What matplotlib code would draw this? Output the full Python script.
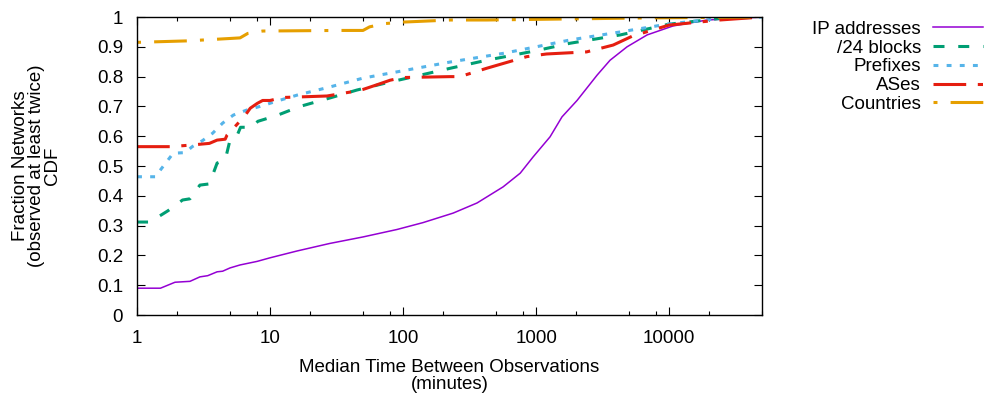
import numpy as np
import matplotlib
matplotlib.use('Agg')
import matplotlib.pyplot as plt
from matplotlib.ticker import LogLocator, NullFormatter, FixedLocator

plt.rcParams['font.family'] = ['Liberation Sans', 'DejaVu Sans']

# data (x in minutes, y = CDF)
ip_x = [1, 1.5, 1.93, 2.5, 2.97, 3.4, 4.0, 4.4, 5.0, 5.95, 8, 10, 16, 28, 50, 90, 141,
        238, 360, 565, 760, 948, 1274, 1567, 2033, 2876, 3600, 4830, 6840, 10700, 19300, 50000]
ip_y = [0.09, 0.09, 0.11, 0.113, 0.128, 0.132, 0.145, 0.147, 0.158, 0.168, 0.18, 0.192, 0.215,
        0.24, 0.262, 0.287, 0.31, 0.342, 0.376, 0.43, 0.476, 0.53, 0.598, 0.665, 0.72, 0.805,
        0.855, 0.9, 0.94, 0.97, 0.99, 1.0]

blocks_x = [1, 1.25, 1.71, 2.2, 2.5, 2.97, 3.5, 4.0, 4.6, 5.0, 5.6, 6.0, 7.3, 8.1, 11.3, 16.8,
            28, 45, 80, 113, 226, 425, 1000, 1800, 4300, 10000, 24000, 50000]
blocks_y = [0.312, 0.312, 0.35, 0.386, 0.39, 0.436, 0.44, 0.51, 0.52, 0.587, 0.598, 0.63, 0.63,
            0.65, 0.67, 0.70, 0.728, 0.755, 0.782, 0.797, 0.828, 0.855, 0.887, 0.912, 0.94,
            0.976, 0.995, 1.0]

prefix_x = [1, 1.37, 1.87, 2.3, 2.6, 3.1, 3.7, 4.4, 5.3, 6.7, 8.4, 11.3, 16, 28, 50, 90, 226,
            565, 1000, 1800, 4300, 10000, 24000, 50000]
prefix_y = [0.464, 0.464, 0.543, 0.545, 0.565, 0.585, 0.61, 0.644, 0.671, 0.688, 0.70, 0.718,
            0.738, 0.765, 0.795, 0.816, 0.849, 0.878, 0.9, 0.923, 0.95, 0.977, 0.995, 1.0]

ases_x = [1, 1.77, 2.5, 3.5, 4.0, 4.6, 4.75, 5.6, 6.5, 7.1, 8.0, 8.8, 10, 12.5, 26.8, 45, 50,
          63, 80, 100, 226, 268, 425, 850, 1200, 2400, 3800, 5300, 10000, 24000, 50000]
ases_y = [0.565, 0.565, 0.57, 0.576, 0.587, 0.59, 0.604, 0.638, 0.67, 0.694, 0.71, 0.72, 0.72,
          0.73, 0.735, 0.752, 0.757, 0.772, 0.788, 0.797, 0.80, 0.80, 0.828, 0.867, 0.876,
          0.883, 0.906, 0.936, 0.973, 0.99, 1.0]

countries_x = [1, 2.4, 5, 5.95, 6.8, 8.8, 33, 50, 56, 73, 100, 226, 425, 6840, 50000]
countries_y = [0.915, 0.92, 0.928, 0.93, 0.945, 0.953, 0.955, 0.955, 0.967, 0.978, 0.983,
               0.99, 0.99, 0.997, 1.0]

x_ticks = [1, 10, 100, 1000, 10000]
x_tick_labels = ['1', '10', '100', '1000', '10000']
y_ticks = [0, 0.1, 0.2, 0.3, 0.4, 0.5, 0.6, 0.7, 0.8, 0.9, 1.0]
y_tick_labels = ['0', '0.1', '0.2', '0.3', '0.4', '0.5', '0.6', '0.7', '0.8', '0.9', '1']

FS = 13.5

fig = plt.figure(figsize=(9.88, 3.96), dpi=100)
ax = fig.add_axes([0.1387, 0.2045, 0.6326, 0.7525])

ax.plot(ip_x, ip_y, color='#9400D3', lw=1.1, label='IP addresses')
ax.plot(blocks_x, blocks_y, color='#009E73', lw=2.2, dashes=(3.6, 4.5), label='/24 blocks')
ax.plot(prefix_x, prefix_y, color='#56B4E9', lw=2.2, dashes=(1.6, 2.7), label='Prefixes')
ax.plot(ases_x, ases_y, color='#E51E10', lw=2.2, dashes=(10.7, 3.8, 1.7, 3.8), label='ASes')
ax.plot(countries_x, countries_y, color='#E69F00', lw=2.2, dashes=(1.3, 4.3, 10.7, 4.3),
        label='Countries')

ax.set_xscale('log')
ax.set_xlim(1, 50000)
ax.set_ylim(0, 1)
ax.xaxis.set_major_locator(FixedLocator(x_ticks))
ax.set_xticklabels(x_tick_labels)
ax.xaxis.set_minor_locator(LogLocator(base=10, subs=[2, 5, 8]))
ax.xaxis.set_minor_formatter(NullFormatter())
ax.set_yticks(y_ticks)
ax.set_yticklabels(y_tick_labels)

ax.tick_params(which='both', direction='in', top=True, right=True, labelsize=FS)
ax.tick_params(which='major', length=6, width=0.8)
ax.tick_params(which='minor', length=3, width=0.8)
ax.tick_params(axis='x', pad=11)
ax.tick_params(axis='y', pad=10)
for s in ax.spines.values():
    s.set_linewidth(1.0)

ax.set_xlabel('Median Time Between Observations\n(minutes)', fontsize=FS, linespacing=1.0)
ax.xaxis.set_label_coords(0.5, -0.148)
ax.set_ylabel('Fraction Networks\n(observed at least twice)\nCDF', fontsize=FS,
              linespacing=0.9)
ax.yaxis.set_label_coords(-0.122, 0.5)

fig.legend(loc='upper right', bbox_to_anchor=(0.995, 0.948), frameon=False,
           markerfirst=False, fontsize=FS, handlelength=2.67, handletextpad=0.64,
           labelspacing=0.09, borderpad=0, borderaxespad=0)

fig.savefig('out.png', dpi=100)
